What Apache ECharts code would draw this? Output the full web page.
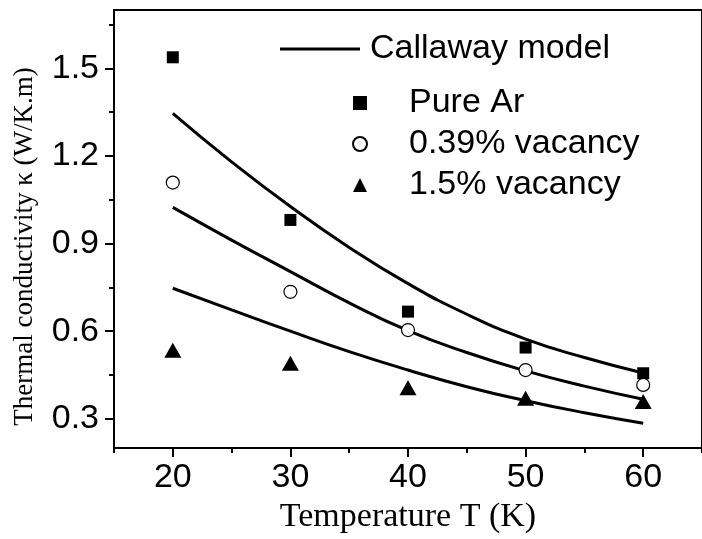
<!DOCTYPE html>
<html>
<head>
<meta charset="utf-8">
<script src="https://cdn.jsdelivr.net/npm/echarts@6/dist/echarts.min.js"></script>
<style>
  html, body { margin: 0; padding: 0; background: #fff; }
  #chart { width: 702px; height: 539px; }
</style>
</head>
<body>
<div id="chart"></div>
<script>
// measured points
var temps = [20, 30, 40, 50, 60];
var pureAr = [1.538, 0.981, 0.667, 0.544, 0.456];
var vac039 = [1.109, 0.735, 0.604, 0.467, 0.416];
var vac15 = [0.535, 0.49, 0.406, 0.37, 0.359];

// Callaway model curves
var modelT = [20, 25, 30, 35, 40, 45, 50, 55, 60];
var modelPure = [1.346, 1.180, 1.027, 0.887, 0.763, 0.658, 0.573, 0.510, 0.457];
var modelVac039 = [1.024, 0.912, 0.804, 0.697, 0.602, 0.527, 0.464, 0.412, 0.367];
var modelVac15 = [0.747, 0.673, 0.600, 0.530, 0.467, 0.410, 0.362, 0.321, 0.285];

// ticks
var xMajor = [20, 30, 40, 50, 60];
var xMinor = [15, 25, 35, 45, 55, 65];
var yMajor = [0.3, 0.6, 0.9, 1.2, 1.5];
var yMinor = [0.45, 0.75, 1.05, 1.35, 1.65];

function pairs(xs, ys) {
    return xs.map(function (x, i) { return [x, ys[i]]; });
}

var sans = 'Liberation Sans, Arial, sans-serif';
var serif = 'Liberation Serif, Times New Roman, serif';

function lineSeries(ys) {
    return {
        name: 'Callaway model', type: 'line', data: pairs(modelT, ys),
        smooth: true, showSymbol: false, symbol: 'none',
        lineStyle: { color: '#000', width: 3 }, itemStyle: { color: '#000' },
        z: 2
    };
}

var chart = echarts.init(document.getElementById('chart'), null, { renderer: 'canvas' });
chart.setOption({
    animation: false,
    backgroundColor: '#fff',
    grid: { left: 114, right: -3, top: 10, bottom: 91, show: true, borderColor: '#000', borderWidth: 2 },
    legend: [{
        data: [{ name: 'Callaway model', icon: 'rect' }], left: 275, top: 27,
        itemWidth: 80, itemHeight: 3, selectedMode: false,
        itemStyle: { color: '#000' },
        textStyle: { fontFamily: sans, fontSize: 34, color: '#000', padding: [0, 0, 0, 5] }
    }, {
        data: ['Pure Ar', '0.39% vacancy', '1.5% vacancy'], orient: 'vertical',
        left: 347, top: 81, itemWidth: 14, itemHeight: 14, itemGap: 7, selectedMode: false,
        textStyle: { fontFamily: sans, fontSize: 34, color: '#000', padding: [0, 0, 0, 37] }
    }],
    xAxis: [{
        type: 'value', min: 15, max: 65, position: 'bottom',
        name: 'Temperature T (K)', nameLocation: 'middle', nameGap: 41,
        nameTextStyle: { fontFamily: serif, fontSize: 34, color: '#000' },
        axisLine: { lineStyle: { color: '#000', width: 2 } },
        axisTick: { inside: false, length: 9, lineStyle: { color: '#000', width: 2 }, customValues: xMajor },
        axisLabel: { margin: 13, fontFamily: sans, fontSize: 34, color: '#000', customValues: xMajor },
        splitLine: { show: false }
    }, {
        type: 'value', min: 15, max: 65, position: 'bottom',
        axisLine: { show: false },
        axisTick: { length: 5, lineStyle: { color: '#000', width: 2 }, customValues: xMinor },
        axisLabel: { show: false },
        splitLine: { show: false }
    }],
    yAxis: [{
        type: 'value', min: 0.2, max: 1.7, position: 'left',
        name: 'Thermal conductivity \u03ba (W/K.m)', nameLocation: 'middle', nameGap: 76,
        nameTextStyle: { fontFamily: serif, fontSize: 27, color: '#000', padding: [0, 35, 0, 0] },
        axisLine: { lineStyle: { color: '#000', width: 2 } },
        axisTick: { length: 9, lineStyle: { color: '#000', width: 2 }, customValues: yMajor },
        axisLabel: {
            margin: 15, fontFamily: sans, fontSize: 34, color: '#000', customValues: yMajor,
            formatter: function (v) { return v.toFixed(1); }
        },
        splitLine: { show: false }
    }, {
        type: 'value', min: 0.2, max: 1.7, position: 'left',
        axisLine: { show: false },
        axisTick: { length: 5, lineStyle: { color: '#000', width: 2 }, customValues: yMinor },
        axisLabel: { show: false },
        splitLine: { show: false }
    }],
    series: [
        lineSeries(modelPure),
        lineSeries(modelVac039),
        lineSeries(modelVac15),
        {
            name: 'Pure Ar', type: 'scatter', data: pairs(temps, pureAr),
            symbol: 'rect', symbolSize: 12, itemStyle: { color: '#000', opacity: 1 }, z: 3
        },
        {
            name: '0.39% vacancy', type: 'scatter', data: pairs(temps, vac039),
            symbol: 'circle', symbolSize: 13,
            itemStyle: { color: '#fff', borderColor: '#000', borderWidth: 1.2, opacity: 1 }, z: 3
        },
        {
            name: '1.5% vacancy', type: 'scatter', data: pairs(temps, vac15),
            symbol: 'triangle', symbolSize: [17, 15], itemStyle: { color: '#000', opacity: 1 }, z: 3
        }
    ]
});
</script>
</body>
</html>
